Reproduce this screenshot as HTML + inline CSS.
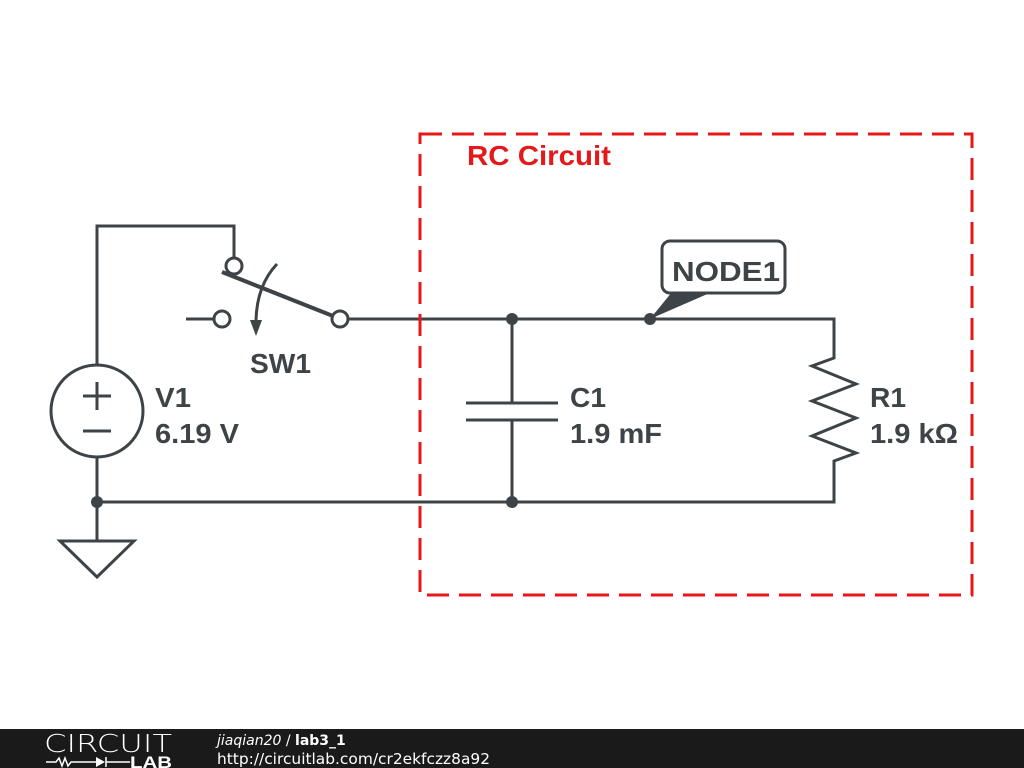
<!DOCTYPE html>
<html><head><meta charset="utf-8"><style>
html,body{margin:0;padding:0;background:#fff;width:1024px;height:768px;overflow:hidden}
</style></head><body>
<svg width="1024" height="768" viewBox="0 0 1024 768" xmlns="http://www.w3.org/2000/svg" style="position:absolute;left:0;top:0">
<g fill="none" stroke="#3d4347" stroke-width="3">
<polyline points="97,365 97,226 234,226 234,258"/>
<circle cx="234" cy="266" r="8"/>
<line x1="186" y1="319" x2="214" y2="319"/>
<circle cx="222" cy="319" r="8"/>
<circle cx="340" cy="319" r="8"/>
<line x1="222" y1="272" x2="333" y2="316" stroke-width="4"/>
<path d="M277,264 Q257,285 256,320"/>
<polyline points="348,319 834,319 834,358 812,366 856,384 812,401 856,418 812,436 856,453 834,461 834,502 97,502"/>
<line x1="512" y1="319" x2="512" y2="403"/>
<line x1="512" y1="420" x2="512" y2="502"/>
<line x1="466" y1="403" x2="558" y2="403"/>
<line x1="466" y1="420" x2="558" y2="420"/>
<circle cx="97" cy="411" r="46"/>
<line x1="97" y1="457" x2="97" y2="541"/>
<polygon points="60,541 134,541 97,577"/>
<line x1="83" y1="396" x2="111" y2="396"/><line x1="97" y1="382" x2="97" y2="410"/>
<line x1="83" y1="431" x2="111" y2="431"/>
<rect x="662" y="241" width="123" height="52" rx="8"/>
</g>
<polygon points="250,320 262,320 256,336" fill="#3d4347"/>
<polygon points="650,319 672,292 712,292" fill="#3d4347"/>
<g fill="#3d4347"><circle cx="512" cy="319" r="6"/><circle cx="650" cy="319" r="6"/><circle cx="512" cy="502" r="6"/><circle cx="97" cy="502" r="6"/></g>
<rect x="420" y="134" width="552" height="461" fill="none" stroke="#e41a1a" stroke-width="3" stroke-dasharray="22,10"/>
<g font-family="Liberation Sans, sans-serif" font-weight="bold" font-size="28" fill="#3d4347" lengthAdjust="spacingAndGlyphs">
<text x="467" y="165" fill="#e41a1a" textLength="144" lengthAdjust="spacingAndGlyphs">RC Circuit</text>
<text x="672" y="281" textLength="108" lengthAdjust="spacingAndGlyphs">NODE1</text>
<text x="250" y="373" textLength="61" lengthAdjust="spacingAndGlyphs">SW1</text>
<text x="155" y="407" textLength="36" lengthAdjust="spacingAndGlyphs">V1</text><text x="155" y="443" textLength="84" lengthAdjust="spacingAndGlyphs">6.19 V</text>
<text x="570" y="407" textLength="36" lengthAdjust="spacingAndGlyphs">C1</text><text x="570" y="443" textLength="92" lengthAdjust="spacingAndGlyphs">1.9 mF</text>
<text x="870" y="407" textLength="36" lengthAdjust="spacingAndGlyphs">R1</text><text x="870" y="443" textLength="88" lengthAdjust="spacingAndGlyphs">1.9 kΩ</text>
</g>
<rect x="0" y="729" width="1024" height="39" fill="#1a1a1a"/>
<text x="44" y="752" font-family="DejaVu Sans, sans-serif" font-size="25" fill="#fff" font-weight="200" textLength="128" lengthAdjust="spacingAndGlyphs">CIRCUIT</text>
<polyline points="46,762 56,762 59,758 62,766 65,758 68,766 71,762 96,762" fill="none" stroke="#fff" stroke-width="1.5"/>
<polygon points="96,757 96,767 105,762" fill="#fff"/>
<line x1="106" y1="757" x2="106" y2="767" stroke="#fff" stroke-width="1.5"/>
<line x1="106" y1="762" x2="130" y2="762" stroke="#fff" stroke-width="1.5"/>
<text x="130" y="768" font-family="Liberation Sans, sans-serif" font-weight="bold" font-size="17" fill="#fff" textLength="42" lengthAdjust="spacingAndGlyphs">LAB</text>
<text x="217" y="745" font-family="DejaVu Sans, sans-serif" font-size="14" fill="#fff"><tspan font-style="italic">jiaqian20</tspan> / <tspan font-weight="bold">lab3_1</tspan></text>
<text x="217" y="764" font-family="DejaVu Sans, sans-serif" font-size="15" fill="#fff" textLength="273" lengthAdjust="spacingAndGlyphs">http://circuitlab.com/cr2ekfczz8a92</text>
</svg>
</body></html>
